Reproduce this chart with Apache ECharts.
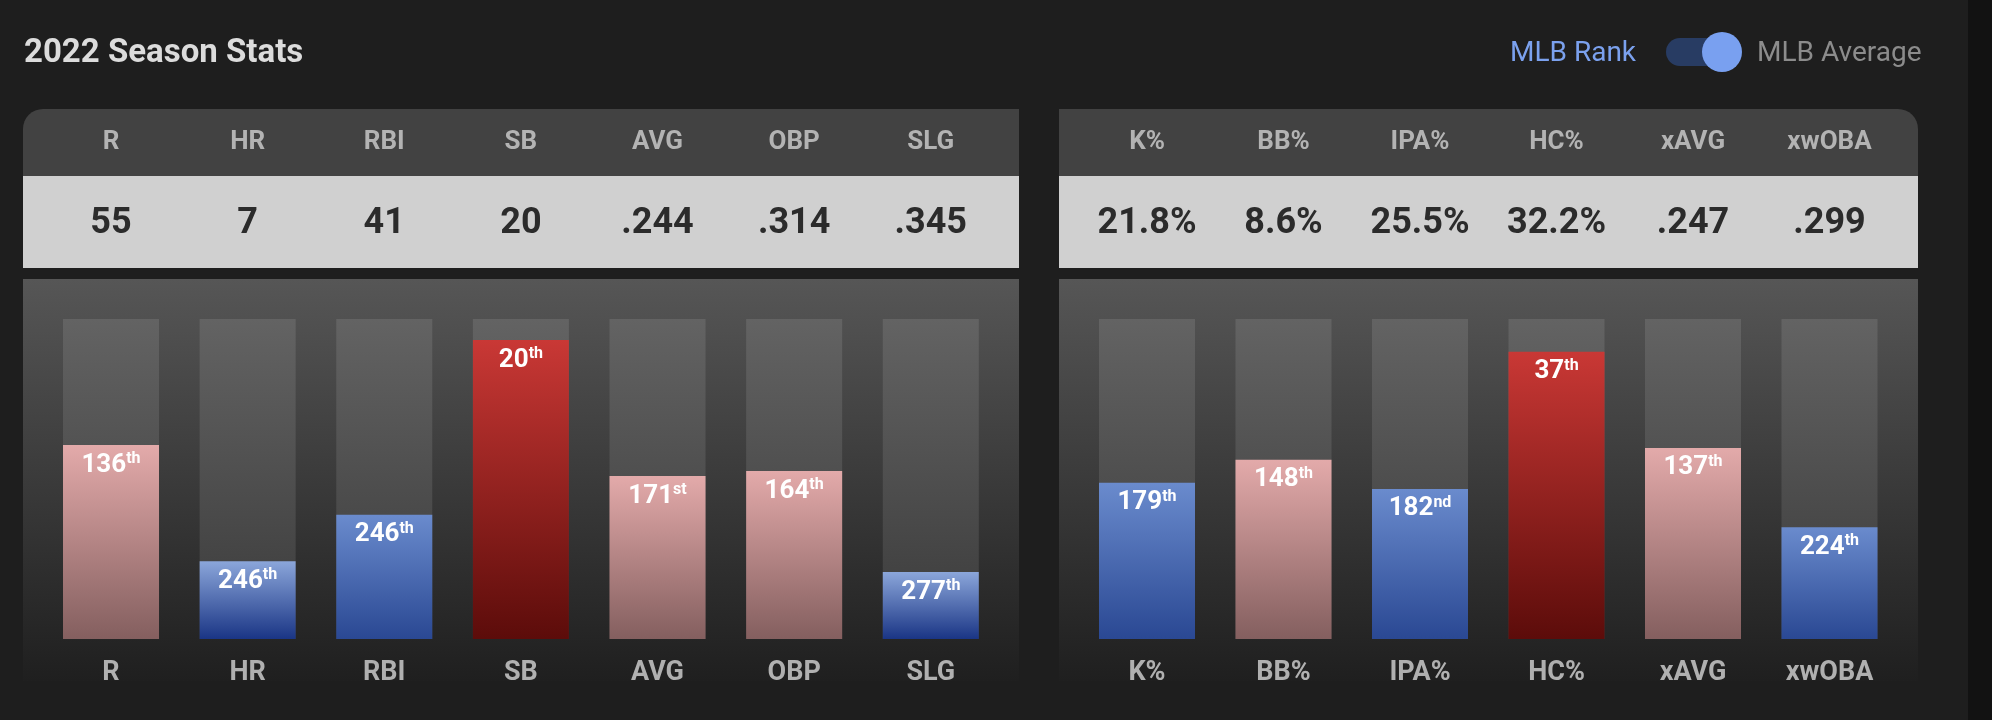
<!DOCTYPE html>
<html>
<head>
<meta charset="utf-8">
<script src="https://cdn.jsdelivr.net/npm/echarts@6/dist/echarts.min.js"></script>
<style>
html,body{margin:0;padding:0;background:#1e1e1e;}
#chart{width:1992px;height:720px;}
</style>
</head>
<body>
<div id="chart"></div>
<script>
// ---- data ----
const titleText = '2022 Season Stats';
const leftCats = ['R', 'HR', 'RBI', 'SB', 'AVG', 'OBP', 'SLG'];
const leftStats = ['55', '7', '41', '20', '.244', '.314', '.345'];
const leftPct = [60.6, 24.3, 38.8, 93.4, 50.9, 52.5, 20.9];
const leftRanks = [136, 246, 246, 20, 171, 164, 277];
const rightCats = ['K%', 'BB%', 'IPA%', 'HC%', 'xAVG', 'xwOBA'];
const rightStats = ['21.8%', '8.6%', '25.5%', '32.2%', '.247', '.299'];
const rightPct = [48.8, 56.0, 46.9, 89.8, 59.7, 34.9];
const rightRanks = [179, 148, 182, 37, 137, 224];
const toggleLeft = 'MLB Rank';
const toggleRight = 'MLB Average';

// ---- helpers ----
function ordinal(n) {
  const t = n % 100;
  if (t >= 11 && t <= 13) return 'th';
  switch (n % 10) { case 1: return 'st'; case 2: return 'nd'; case 3: return 'rd'; default: return 'th'; }
}
function lg(top, bottom) {
  return { type: 'linear', x: 0, y: 0, x2: 0, y2: 1, colorStops: [{ offset: 0, color: top }, { offset: 1, color: bottom }] };
}
function barColor(v) {
  if (v >= 80) return lg('#c93835', '#5c0c0a');
  if (v >= 50) return lg('#e3aaaa', '#845f5f');
  if (v >= 30) return lg('#6a8bcd', '#2a4893');
  return lg('#8ba6da', '#1a3585');
}
const FONT = 'Roboto';

function axesFor(gridIndex, cats, stats) {
  const base = {
    type: 'category', gridIndex: gridIndex, z: 10,
    axisLine: { show: false }, axisTick: { show: false }, splitLine: { show: false }
  };
  return [
    Object.assign({}, base, {
      position: 'bottom', data: cats,
      axisLabel: { interval: 0, margin: 34, verticalAlign: 'middle', color: '#b0b0b0', fontFamily: FONT, fontWeight: 'bold', fontSize: 27 }
    }),
    Object.assign({}, base, {
      position: 'top', data: cats,
      axisLabel: { interval: 0, margin: 177, verticalAlign: 'middle', color: '#b3b3b3', fontFamily: FONT, fontWeight: 'bold', fontSize: 26 }
    }),
    Object.assign({}, base, {
      position: 'top', data: stats,
      axisLabel: { interval: 0, margin: 95, verticalAlign: 'middle', color: '#2b2b2b', fontFamily: FONT, fontWeight: 'bold', fontSize: 36 }
    })
  ];
}

function barSeries(xIdx, yIdx, pct, ranks) {
  return {
    type: 'bar', xAxisIndex: xIdx, yAxisIndex: yIdx, barWidth: 96, z: 5,
    showBackground: true,
    backgroundStyle: { color: lg('#636363', '#3a3a3a') },
    data: pct.map(function (v) { return { value: v, itemStyle: { color: barColor(v) } }; }),
    label: {
      show: true, position: 'insideTop', distance: 6,
      formatter: function (p) { const r = ranks[p.dataIndex]; return '{n|' + r + '}{s|' + ordinal(r) + '}'; },
      rich: {
        n: { color: '#ffffff', fontFamily: FONT, fontWeight: 'bold', fontSize: 26, lineHeight: 28 },
        s: { color: '#ffffff', fontFamily: FONT, fontWeight: 'bold', fontSize: 16, lineHeight: 16, verticalAlign: 'top' }
      }
    }
  };
}

const chart = echarts.init(document.getElementById('chart'), null, { renderer: 'canvas' });

const panels = [];
function addPanel(x1, x2, radius) {
  panels.push({ type: 'rect', z: 0, shape: { x: x1, y: 109, width: x2 - x1, height: 67, r: radius }, style: { fill: '#424242' } });
  panels.push({ type: 'rect', z: 0, shape: { x: x1, y: 176, width: x2 - x1, height: 92 }, style: { fill: '#d0d0d0' } });
  panels.push({ type: 'rect', z: 0, shape: { x: x1, y: 279, width: x2 - x1, height: 402 }, style: { fill: lg('#565656', '#1f1f1f') } });
}
addPanel(23, 1019, [20, 0, 0, 0]);
addPanel(1059, 1918, [0, 20, 0, 0]);

const option = {
  backgroundColor: '#1e1e1e',
  animation: false,
  graphic: {
    elements: [
      { type: 'rect', z: 0, shape: { x: 1968, y: 0, width: 24, height: 720 }, style: { fill: '#121212' } },
      { type: 'text', z: 1, x: 24, y: 54, style: { text: titleText, font: 'bold 33px Roboto', fill: '#dcdcdc', textVerticalAlign: 'middle' } },
      { type: 'text', z: 1, x: 1510, y: 54, style: { text: toggleLeft, font: '400 28px Roboto', fill: '#7ba1ee', textVerticalAlign: 'middle' } },
      { type: 'rect', z: 1, shape: { x: 1666, y: 38, width: 66, height: 28, r: 14 }, style: { fill: '#283c63' } },
      { type: 'circle', z: 2, shape: { cx: 1722, cy: 52, r: 20 }, style: { fill: '#79a0f0' } },
      { type: 'text', z: 1, x: 1757, y: 54, style: { text: toggleRight, font: '400 28px Roboto', fill: '#8c8c8c', textVerticalAlign: 'middle' } }
    ].concat(panels)
  },
  grid: [
    { left: 42.7, width: 956.4, top: 319, height: 320 },
    { left: 1078.75, width: 819, top: 319, height: 320 }
  ],
  xAxis: axesFor(0, leftCats, leftStats).concat(axesFor(1, rightCats, rightStats)),
  yAxis: [
    { type: 'value', gridIndex: 0, min: 0, max: 100, show: false },
    { type: 'value', gridIndex: 1, min: 0, max: 100, show: false }
  ],
  series: [
    barSeries(0, 0, leftPct, leftRanks),
    barSeries(3, 1, rightPct, rightRanks)
  ]
};
chart.setOption(option);
</script>
</body>
</html>
